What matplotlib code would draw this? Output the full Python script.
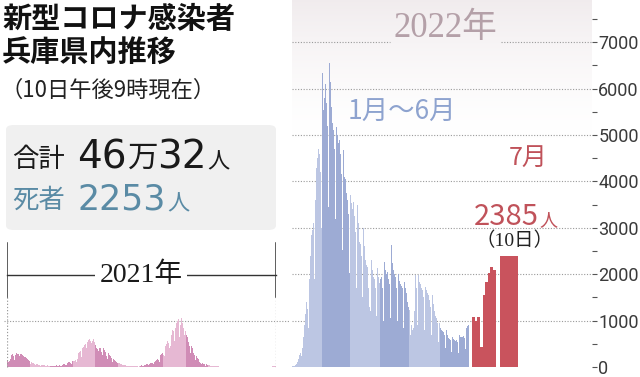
import numpy as np
import matplotlib
matplotlib.use("Agg")
import matplotlib.pyplot as plt
from matplotlib import font_manager
from matplotlib.patches import FancyBboxPatch
from matplotlib.lines import Line2D

# ---- data (daily new cases, Hyogo) ----
cases_2021 = {
    1: [120, 150, 110, 130, 180, 230, 250, 270, 240, 200, 150, 260, 300, 290, 280, 270,
        230, 160, 270, 280, 260, 250, 240, 210, 130, 220, 200, 180, 170, 150, 120],
    2: [70, 110, 100, 90, 80, 70, 60, 40, 70, 60, 55, 50, 45, 40, 25, 45, 40, 35, 40, 35,
        30, 20, 25, 35, 30, 30, 28, 20],
    3: [15, 30, 30, 25, 30, 28, 25, 15, 35, 30, 30, 40, 35, 30, 20, 45, 50, 60, 60, 55,
        50, 45, 70, 80, 100, 110, 100, 90, 70, 120, 150],
    4: [120, 140, 160, 130, 110, 180, 250, 300, 330, 350, 300, 220, 400, 440, 450, 480,
        500, 420, 300, 540, 580, 600, 620, 560, 520, 330, 560, 600, 540, 500],
    5: [480, 420, 380, 300, 350, 420, 400, 380, 330, 250, 400, 380, 360, 330, 300, 240,
        170, 300, 280, 250, 230, 200, 160, 110, 170, 150, 130, 120, 110, 90, 60],
    6: [90, 80, 70, 65, 55, 45, 30, 50, 45, 40, 35, 30, 25, 18, 30, 28, 25, 22, 20, 18,
        12, 25, 22, 20, 20, 18, 15, 10, 20, 18],
    7: [30, 35, 30, 25, 20, 40, 45, 50, 55, 60, 50, 35, 70, 80, 85, 90, 85, 70, 50, 110,
        130, 150, 160, 170, 150, 110, 220, 250, 280, 300, 290],
    8: [260, 230, 400, 450, 500, 560, 580, 520, 400, 450, 650, 700, 800, 780, 700, 560,
        850, 950, 1050, 1000, 1030, 900, 650, 900, 1050, 980, 950, 850, 700, 520, 780],
    9: [700, 650, 600, 550, 450, 300, 500, 450, 400, 350, 300, 250, 160, 260, 230, 200,
        170, 140, 110, 80, 60, 100, 80, 70, 60, 50, 30, 60, 55, 45],
    10: [40, 35, 25, 15, 30, 28, 25, 22, 20, 15, 8, 18, 16, 14, 12, 10, 8, 5, 10, 9, 8, 7,
         6, 5, 3, 6, 5, 5, 4, 4, 2],
    11: [3, 4, 2, 4, 3, 3, 2, 1, 3, 4, 2, 3, 2, 2, 1, 2, 3, 2, 2, 3, 2, 1, 1, 2, 3, 3, 2,
         1, 2, 3],
    12: [2, 3, 4, 3, 3, 2, 4, 5, 3, 4, 3, 2, 2, 4, 3, 5, 4, 3, 2, 5, 6, 8, 10, 7, 6, 5,
         12, 15, 20, 25, 20],
}

cases_2022 = {
    1: [20, 25, 15, 40, 60, 110, 180, 250, 300, 230, 420, 640, 900, 1150, 1400, 1250,
        850, 1900, 2400, 2850, 2950, 3100, 2700, 1900, 3600, 4300, 4500, 4700, 4600,
        4200, 3000],
    2: [6340, 5540, 5800, 6100, 5700, 5200, 3450, 6550, 6150, 5600, 5250, 5100, 4700,
        3200, 5170, 5000, 4830, 4890, 4600, 4150, 2520, 4680, 4100, 4050, 3750, 3600,
        3300, 2030],
    3: [3700, 3530, 3400, 3550, 3250, 2900, 1700, 3500, 3100, 2950, 2700, 2650, 2400,
        1500, 3000, 2600, 2300, 2200, 2150, 1700, 1300, 1200, 2300, 2100, 1950, 1900,
        1700, 1100, 2130, 1950, 1810],
    4: [1900, 1950, 1700, 1000, 2260, 2100, 2000, 2050, 1900, 1800, 1050, 2630, 2240,
        2100, 2000, 1950, 1700, 1000, 2000, 1850, 1800, 1750, 1700, 1500, 850, 1830,
        1700, 1590, 1400, 1300],
    5: [1230, 700, 900, 800, 850, 1200, 1980, 1700, 900, 1980, 1830, 1800, 1700, 1650,
        1500, 800, 1720, 1660, 1600, 1550, 1450, 1300, 700, 1550, 1350, 1200, 1100,
        1050, 950, 550, 950],
    6: [850, 800, 780, 750, 700, 400, 800, 700, 650, 625, 600, 580, 330, 650, 600, 580,
        560, 580, 550, 300, 700, 650, 640, 650, 660, 620, 380, 840, 880, 900],
}
july_2022 = [1070, 1000, 1070, 430, 1550, 1830, 2025, 2155, 2090]
latest_value = 2385

y_ticks = [0, 1000, 2000, 3000, 4000, 5000, 6000, 7000]

# ---- colours / fonts ----
PINK_LIGHT, PINK_DARK = "#e6b8d3", "#d08cb6"
BLUE_LIGHT, BLUE_DARK = "#bcc6e3", "#9dabd4"
RED = "#c9535d"
GRID = "#9a9a9a"
CJK = ["Noto Sans CJK JP", "DejaVu Sans"]
SERIF = ["Liberation Serif", "Noto Sans CJK JP"]

installed = {f.name for f in font_manager.fontManager.ttflist}
if "Liberation Sans Narrow" in installed:
    tick_font, tick_size = "Liberation Sans Narrow", 16
elif "DejaVu Sans Condensed" in installed:
    tick_font, tick_size = "DejaVu Sans Condensed", 12.5
else:
    tick_font, tick_size = "Roboto", 13

W, H = 640, 377
YLIM = (-215, 7910)


def fx(x):
    return x / W


def fy(y):
    return 1 - y / H


fig = plt.figure(figsize=(6.4, 3.77), dpi=100)
fig.patch.set_facecolor("white")

# ---------- 2021 (left, small) ----------
ax1 = fig.add_axes([fx(7), 0, (276 - 7) / W, 1])
vals21, cols21 = [], []
for m in range(1, 13):
    vals21 += cases_2021[m]
    cols21 += [PINK_DARK if m % 2 == 1 else PINK_LIGHT] * len(cases_2021[m])
ax1.bar(np.arange(len(vals21)), vals21, width=1.0, color=cols21, linewidth=0)
ax1.set_xlim(-0.5, len(vals21) - 0.5)
ax1.set_ylim(*YLIM)
ax1.axis("off")
ax1.axhline(1000, xmin=-0.01, xmax=1.05, color=GRID, lw=0.8,
            ls=(0, (1, 1.5)), clip_on=False, zorder=0)
for xe in (0, 1):
    ax1.axvline(ax1.get_xlim()[xe], ymin=10 / H, ymax=(H - 297) / H,
                color=GRID, lw=0.9, ls=(0, (1, 1.5)))
    ax1.axvline(ax1.get_xlim()[xe], ymin=(H - 297) / H, ymax=(H - 243) / H,
                color="#333333", lw=1.1)

fig.add_artist(Line2D([fx(7), fx(276)], [fy(275), fy(275)], color="#333333", lw=1.0))
fig.text(fx(141), fy(275), "2021年", ha="center", va="center", fontsize=20,
         family=SERIF, color="#1a1a1a",
         bbox=dict(facecolor="white", edgecolor="none", pad=3))

# ---------- 2022 (right, main) ----------
ax2 = fig.add_axes([fx(292), 0, (592 - 292) / W, 1])
unit_px = 0.978
ax2.set_xlim(-0.5, -0.5 + (592 - 292) / unit_px)
ax2.set_ylim(*YLIM)

vals22, cols22 = [], []
for m in range(1, 7):
    vals22 += cases_2022[m]
    cols22 += [BLUE_LIGHT if m % 2 == 1 else BLUE_DARK] * len(cases_2022[m])
ax2.bar(np.arange(len(vals22)), vals22, width=1.0, color=cols22, linewidth=0, zorder=2)

# July drawn wider
jul_gap, jul_w = 3.0, 2.7
jul_x = len(vals22) - 0.5 + jul_gap + np.arange(len(july_2022)) * jul_w
ax2.bar(jul_x, july_2022, width=jul_w, align="edge", color=RED, linewidth=0, zorder=2)
last_x = jul_x[-1] + jul_w + 4.0
ax2.bar([last_x], [latest_value], width=19.0, align="edge", color=RED, linewidth=0, zorder=2)

# soft gradient at the top
grad = np.zeros((100, 2, 4))
grad[..., 0], grad[..., 1], grad[..., 2] = 0.935, 0.91, 0.92
grad[..., 3] = 0.85 * np.linspace(1, 0, 100)[:, None] ** 1.6
ax2.imshow(grad, extent=[*ax2.get_xlim(), 4800, YLIM[1]], aspect="auto",
           origin="upper", zorder=0)

for yv in y_ticks[1:-1]:
    ax2.axhline(yv, xmin=0, xmax=0.995, color=GRID, lw=0.8, ls=(0, (1, 1.5)), zorder=1)
ax2.axhline(y_ticks[-1], xmin=0, xmax=0.325, color=GRID, lw=0.8, ls=(0, (1, 1.5)), zorder=1)
ax2.axhline(y_ticks[-1], xmin=0.695, xmax=0.995, color=GRID, lw=0.8, ls=(0, (1, 1.5)), zorder=1)

for s in ax2.spines.values():
    s.set_visible(False)
ax2.set_xticks([])
ax2.yaxis.tick_right()
ax2.set_yticks(y_ticks)
ax2.set_yticks([v + 500 for v in y_ticks], minor=True)
ax2.tick_params(axis="y", which="both", direction="out", length=3.5, width=0.8,
                color="#555555", pad=1.0)
for lab in ax2.get_yticklabels():
    lab.set_family(tick_font)
    lab.set_fontsize(tick_size)
    lab.set_color("#3a3a3a")
ax2.patch.set_alpha(0)

# ---------- texts ----------
fig.text(fx(2), fy(19), "新型コロナ感染者", ha="left", va="center", fontsize=21,
         weight="bold", family=CJK, color="#111111")
fig.text(fx(2), fy(53), "兵庫県内推移", ha="left", va="center", fontsize=21,
         weight="bold", family=CJK, color="#111111")
fig.text(fx(0), fy(90), "（10日午後9時現在）", ha="left", va="center", fontsize=16,
         family=CJK, color="#222222")

box = FancyBboxPatch((fx(6), fy(230)), fx(276) - fx(6), fy(125) - fy(230),
                     boxstyle="round,pad=0,rounding_size=0.012",
                     transform=fig.transFigure, facecolor="#f0f0f0",
                     edgecolor="none", zorder=0)
fig.add_artist(box)

fig.text(fx(12), fy(167), "合計", ha="left", va="baseline", fontsize=19,
         family=CJK, color="#1a1a1a")
fig.text(fx(77), fy(168), "46", ha="left", va="baseline", fontsize=28,
         family="DejaVu Sans", color="#1a1a1a")
fig.text(fx(128), fy(167), "万", ha="left", va="baseline", fontsize=22,
         family=CJK, color="#1a1a1a")
fig.text(fx(157), fy(168), "32", ha="left", va="baseline", fontsize=28,
         family="DejaVu Sans", color="#1a1a1a")
fig.text(fx(207), fy(168), "人", ha="left", va="baseline", fontsize=16,
         family=CJK, color="#1a1a1a")

BLUE_TXT = "#5a8ba5"
fig.text(fx(12), fy(208), "死者", ha="left", va="baseline", fontsize=19,
         family=CJK, color=BLUE_TXT)
fig.text(fx(77), fy(210), "2253", ha="left", va="baseline", fontsize=25,
         family="DejaVu Sans", color=BLUE_TXT)
fig.text(fx(167), fy(210), "人", ha="left", va="baseline", fontsize=16,
         family=CJK, color=BLUE_TXT)

fig.text(fx(445), fy(29), "2022年", ha="center", va="center", fontsize=25,
         family=SERIF, color="#b4a0a8")
fig.text(fx(402), fy(112), "1月～6月", ha="center", va="center", fontsize=19,
         family=CJK, color="#8ea3cf")
fig.text(fx(528), fy(158), "7月", ha="center", va="center", fontsize=18,
         family=CJK, color="#c0525a")
fig.text(fx(474), fy(225), "2385", ha="left", va="baseline", fontsize=21,
         family=CJK, color="#c0525a")
fig.text(fx(539), fy(225), "人", ha="left", va="baseline", fontsize=13,
         family=CJK, color="#c0525a")
fig.text(fx(515), fy(241), "（10日）", ha="center", va="center", fontsize=14,
         family=SERIF, color="#222222")

fig.savefig("out.png", dpi=100)
